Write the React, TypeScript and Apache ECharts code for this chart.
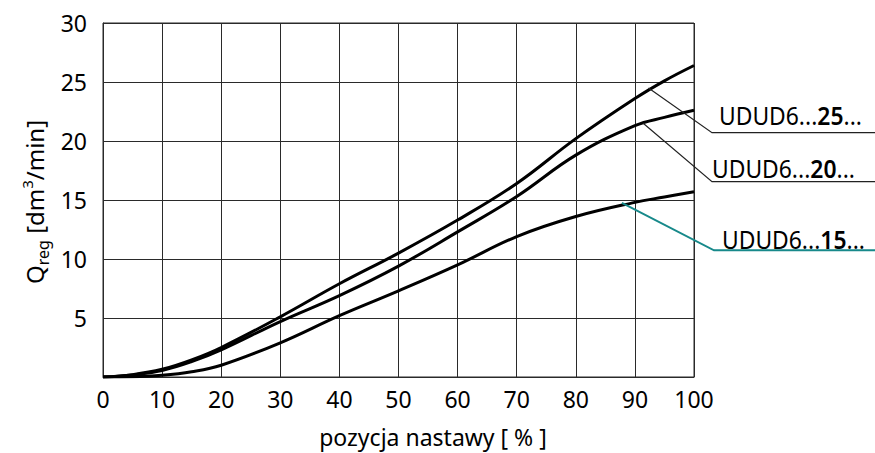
import React, { useEffect, useRef } from "react";
import * as echarts from "echarts";

// ---- data ----
const xPositions = [0, 5, 10, 15, 20, 30, 40, 50, 60, 70, 80, 90, 95, 100];
const seriesNames = ["UDUD6...25...", "UDUD6...20...", "UDUD6...15..."];
const flow25 = [0, 0.2, 0.65, 1.45, 2.5, 5.1, 7.9, 10.5, 13.3, 16.4, 20.2, 23.6, 25.1, 26.4];
const flow20 = [0, 0.18, 0.55, 1.3, 2.3, 4.7, 6.9, 9.4, 12.3, 15.3, 18.8, 21.3, 22.0, 22.6];
const flow15 = [0, 0.02, 0.15, 0.45, 1.0, 2.9, 5.2, 7.3, 9.5, 11.9, 13.6, 14.8, 15.25, 15.7];
const xTicks = [0, 10, 20, 30, 40, 50, 60, 70, 80, 90, 100];
const yTicks = [0, 5, 10, 15, 20, 25, 30];
// leader-line anchor points on the curves (data coords)
const leaderAnchors25 = [92.3, 24.5];
const leaderAnchors20 = [91.4, 21.5];
const leaderAnchors15 = [87.8, 14.75];
const labelBold = ["25", "20", "15"];

const FONT = '"Noto Sans", sans-serif';

function measure(text: string, size: number, weight = "normal") {
  const c = document.createElement("canvas");
  const ctx = c.getContext("2d")!;
  ctx.font = `${weight} ${size}px "Noto Sans"`;
  return ctx.measureText(text).width;
}

export default function App() {
  const ref = useRef<HTMLDivElement>(null);
  useEffect(() => {
    if (!ref.current) return;
    const chart = echarts.init(ref.current, undefined, { renderer: "svg" });
    const mk = (vals: number[]) => xPositions.map((x, i) => [x, vals[i]]);
    const lineSeries = (name: string, vals: number[]) => ({
      name,
      type: "line",
      data: mk(vals),
      smooth: 0.4,
      symbol: "none",
      lineStyle: { color: "#000", width: 3 },
      z: 5,
    });
    chart.setOption({
      animation: false,
      grid: {
        left: 103,
        right: 181,
        top: 23,
        bottom: 76,
        show: true,
        borderColor: "#2a2a2a",
        borderWidth: 1,
      },
      xAxis: {
        type: "value",
        min: xTicks[0],
        max: xTicks[xTicks.length - 1],
        interval: 10,
        axisLine: { show: true, lineStyle: { color: "#2a2a2a", width: 1 } },
        axisTick: { show: false },
        splitLine: { show: true, lineStyle: { color: "#2a2a2a", width: 1 } },
        axisLabel: { fontFamily: FONT, fontSize: 23, color: "#000", margin: 10 },
      },
      yAxis: {
        type: "value",
        min: yTicks[0],
        max: yTicks[yTicks.length - 1],
        interval: 5,
        axisLine: { show: true, lineStyle: { color: "#2a2a2a", width: 1 } },
        axisTick: { show: false },
        splitLine: { show: true, lineStyle: { color: "#2a2a2a", width: 1 } },
        axisLabel: {
          fontFamily: FONT,
          fontSize: 23,
          color: "#000",
          margin: 16,
          formatter: (v: number) => (v === 0 ? "" : String(v)),
        },
      },
      series: [
        lineSeries(seriesNames[0], flow25),
        lineSeries(seriesNames[1], flow20),
        lineSeries(seriesNames[2], flow15),
      ],
    });

    const p = (pt: number[]) => chart.convertToPixel({ gridIndex: 0 }, pt) as number[];
    const a25 = p(leaderAnchors25);
    const a20 = p(leaderAnchors20);
    const a15 = p(leaderAnchors15);

    const labelText = (i: number, x: number, y: number) => ({
      type: "text",
      x,
      y,
      scaleX: 0.88,
      style: {
        text: `{n|UDUD6...}{b|${labelBold[i]}}{n|...}`,
        verticalAlign: "middle",
        align: "left",
        rich: {
          n: { fontFamily: FONT, fontSize: 26, fill: "#000", lineHeight: 26 },
          b: { fontFamily: FONT, fontSize: 26, fontWeight: 600, fill: "#000", lineHeight: 26 },
        },
      },
      z: 20,
    });

    // Y axis title pieces laid out along a rotated baseline
    const mainFs = 24;
    const subFs = 16;
    const supFs = 15;
    const pieces = [
      { t: "Q", fs: mainFs, dy: 0 },
      { t: "reg", fs: subFs, dy: 6 },
      { t: " [dm", fs: mainFs, dy: 0 },
      { t: "3", fs: supFs, dy: -11 },
      { t: "/min]", fs: mainFs, dy: 0 },
    ];
    let cx = 0;
    const yTitleChildren = pieces.map((pc) => {
      const el = {
        type: "text",
        x: cx,
        y: pc.dy - 0.36 * pc.fs,
        style: {
          text: pc.t,
          fontFamily: FONT,
          fontSize: pc.fs,
          fill: "#000",
          align: "left",
          verticalAlign: "middle",
        },
      };
      cx += measure(pc.t, pc.fs);
      return el;
    });

    chart.setOption({
      graphic: [
        {
          type: "polyline",
          shape: { points: [a25, [712, 132.7], [875, 132.7]] },
          style: { stroke: "#222", lineWidth: 1.2, fill: null },
          z: 10,
        },
        {
          type: "polyline",
          shape: { points: [a20, [712, 181.7], [875, 181.7]] },
          style: { stroke: "#222", lineWidth: 1.2, fill: null },
          z: 10,
        },
        {
          type: "polyline",
          shape: { points: [a15, [714, 250.3], [875, 250.3]] },
          style: { stroke: "#17898a", lineWidth: 2, fill: null },
          z: 10,
        },
        labelText(0, 719, 114.5),
        labelText(1, 712, 167.8),
        labelText(2, 722, 239.2),
        {
          type: "text",
          x: 433,
          y: 437,
          style: {
            text: "pozycja nastawy [ % ]",
            fontFamily: FONT,
            fontSize: 23,
            fill: "#000",
            align: "center",
            verticalAlign: "middle",
          },
        },
        {
          type: "group",
          x: 43,
          y: 284,
          rotation: Math.PI / 2,
          children: yTitleChildren,
        },
      ],
    });
    return () => chart.dispose();
  }, []);
  return (
    <div
      ref={ref}
      style={{ position: "fixed", left: 0, top: 0, width: 875, height: 453, background: "#fff" }}
    />
  );
}
